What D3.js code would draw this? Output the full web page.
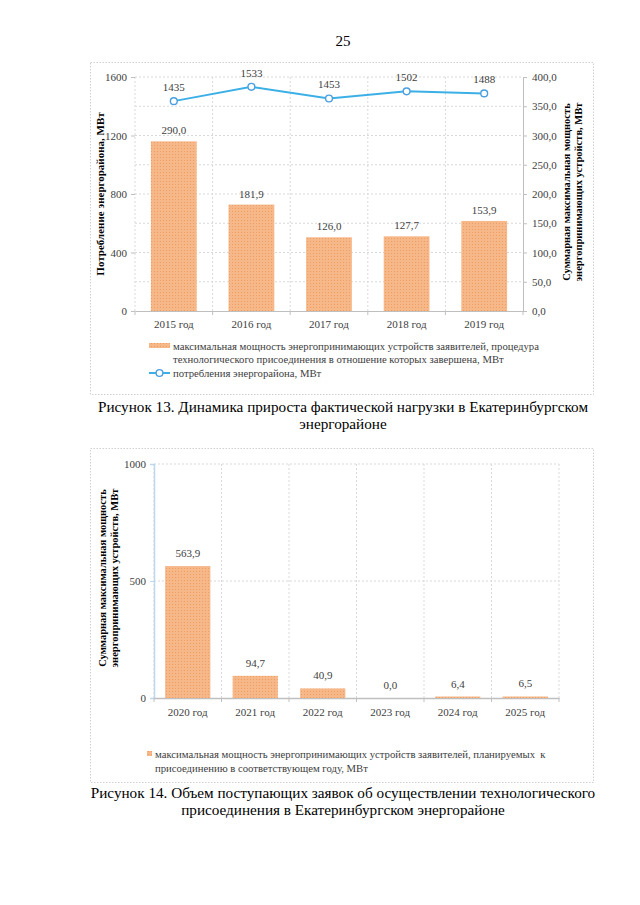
<!DOCTYPE html>
<html><head><meta charset="utf-8">
<script src="https://cdn.jsdelivr.net/npm/d3@7"></script>
<style>
body{margin:0;background:#fff}
svg{display:block}
text{font-family:"Liberation Serif","Times New Roman",serif}
</style>
</head><body>
<svg id="c" width="640" height="905"></svg>
<script>
// ---------- data ----------
const years1 = ["2015 год","2016 год","2017 год","2018 год","2019 год"];
const consumption = [1435,1533,1453,1502,1488];          // left axis, MW
const connectedPower = [290.0,181.9,126.0,127.7,153.9];  // right axis, MW
const leftTicks1 = [0,400,800,1200,1600];
const rightTicks1 = [0,50,100,150,200,250,300,350,400];

const years2 = ["2020 год","2021 год","2022 год","2023 год","2024 год","2025 год"];
const plannedPower = [563.9,94.7,40.9,0.0,6.4,6.5];
const ticks2 = [0,500,1000];

const legend1a = ["максимальная мощность энергопринимающих устройств заявителей, процедура",
                  "технологического присоединения в отношение которых завершена, МВт"];
const legend1b = "потребления энергорайона, МВт";
const legend2 = ["максимальная мощность энергопринимающих устройств заявителей, планируемых  к",
                 "присоединению в соответствующем году, МВт"];
const caption1 = ["Рисунок 13. Динамика прироста фактической нагрузки в Екатеринбургском","энергорайоне"];
const caption2 = ["Рисунок 14. Объем поступающих заявок об осуществлении технологического","присоединения в Екатеринбургском энергорайоне"];

// ---------- setup ----------
const svg = d3.select("#c");
const fmt1 = v => d3.format(".1f")(v).replace(".", ",");
const GRID = "#d9d9d9", AXIS = "#bfbfbf", TXT = "#404040", LINE = "#3cb0e6", MARK = "#4a9fe0";

const defs = svg.append("defs");
const pat = defs.append("pattern").attr("id","dots").attr("width",3).attr("height",3)
  .attr("patternUnits","userSpaceOnUse");
pat.append("rect").attr("width",3).attr("height",3).attr("fill","#f6b889");
pat.append("rect").attr("x",1).attr("y",1).attr("width",1).attr("height",1).attr("fill","#ee9e62");

// page number
svg.append("text").attr("x",343).attr("y",46).attr("text-anchor","middle")
  .attr("font-size",15).attr("fill","#000").text("25");

function frame(x0,y0,x1,y1){
  svg.append("rect").attr("x",x0).attr("y",y0).attr("width",x1-x0).attr("height",y1-y0)
    .attr("fill","#fff").attr("stroke","#d0d0d0").attr("stroke-dasharray","1.5,1.5").attr("stroke-width",1);
}
function caption(lines,y){
  lines.forEach((t,i)=>svg.append("text").attr("x",343).attr("y",y+i*17).attr("text-anchor","middle")
    .attr("font-size",15.2).attr("fill","#000").text(t));
}

// ================= Chart 1 =================
frame(90.5,62.5,593.5,394.5);
const p1 = {l:135, r:523, t:77, b:311};
const x1 = d3.scaleBand().domain(years1).range([p1.l,p1.r]).paddingInner(0.41).paddingOuter(0.205);
const xb1 = d3.scaleBand().domain(years1).range([p1.l,p1.r]);
const yL1 = d3.scaleLinear().domain([0,1600]).range([p1.b,p1.t]);
const yR1 = d3.scaleLinear().domain([0,400]).range([p1.b,p1.t]);

const g1 = svg.append("g");
g1.selectAll(".hg").data(rightTicks1.filter(d=>d>0)).join("line")
  .attr("x1",p1.l).attr("x2",p1.r).attr("y1",d=>yR1(d)).attr("y2",d=>yR1(d))
  .attr("stroke",GRID).attr("stroke-dasharray","2,2");
g1.selectAll(".vg").data(years1).join("line")
  .attr("x1",d=>xb1(d)).attr("x2",d=>xb1(d)).attr("y1",p1.t).attr("y2",p1.b)
  .attr("stroke",GRID).attr("stroke-dasharray","2,2");

const axL1 = d3.axisLeft(yL1).tickValues(leftTicks1).tickSize(4).tickPadding(4).tickFormat(d=>d);
const gaL1 = svg.append("g").attr("transform",`translate(${p1.l},0)`).call(axL1);
const axR1 = d3.axisRight(yR1).tickValues(rightTicks1).tickSize(4).tickPadding(5).tickFormat(fmt1);
const gaR1 = svg.append("g").attr("transform",`translate(${p1.r},0)`).call(axR1);
const axB1 = d3.axisBottom(xb1).tickSize(0).tickPadding(9);
const gaB1 = svg.append("g").attr("transform",`translate(0,${p1.b})`).call(axB1);
svg.selectAll(".bt1").data(years1.concat([null])).join("line")
  .attr("x1",(d,i)=>p1.l+i*xb1.step()).attr("x2",(d,i)=>p1.l+i*xb1.step())
  .attr("y1",p1.b).attr("y2",p1.b+4).attr("stroke",AXIS);
[gaL1,gaR1,gaB1].forEach(g=>{
  g.selectAll(".domain").attr("stroke",AXIS);
  g.selectAll(".tick line").attr("stroke",AXIS);
  g.selectAll("text").attr("font-size",11).attr("fill",TXT)
    .attr("font-family","'Liberation Serif','Times New Roman',serif");
});
gaL1.select(".domain").attr("stroke","none");

svg.selectAll(".bar1").data(connectedPower).join("rect")
  .attr("x",(d,i)=>x1(years1[i])).attr("width",x1.bandwidth())
  .attr("y",d=>yR1(d)).attr("height",d=>p1.b-yR1(d)).attr("fill","url(#dots)");
svg.selectAll(".bl1").data(connectedPower).join("text")
  .attr("x",(d,i)=>xb1(years1[i])+xb1.bandwidth()/2).attr("y",d=>yR1(d)-7)
  .attr("text-anchor","middle").attr("font-size",11).attr("fill",TXT).text(fmt1);

const lineGen = d3.line().x((d,i)=>xb1(years1[i])+xb1.bandwidth()/2).y(d=>yL1(d));
svg.append("path").datum(consumption).attr("d",lineGen).attr("fill","none")
  .attr("stroke",LINE).attr("stroke-width",2);
svg.selectAll(".pt1").data(consumption).join("circle")
  .attr("cx",(d,i)=>xb1(years1[i])+xb1.bandwidth()/2).attr("cy",d=>yL1(d)).attr("r",3.4)
  .attr("fill","#fff").attr("stroke",MARK).attr("stroke-width",1.4);
svg.selectAll(".ll1").data(consumption).join("text")
  .attr("x",(d,i)=>xb1(years1[i])+xb1.bandwidth()/2).attr("y",d=>yL1(d)-10)
  .attr("text-anchor","middle").attr("font-size",11).attr("fill",TXT).text(d=>d);

svg.append("text").attr("transform","translate(104,194) rotate(-90)").attr("text-anchor","middle")
  .attr("font-size",11).attr("font-weight","bold").attr("fill","#000").text("Потребление энергорайона, МВт");
const rt = svg.append("text").attr("transform","translate(570,192) rotate(-90)").attr("text-anchor","middle")
  .attr("font-size",10.5).attr("font-weight","bold").attr("fill","#000");
rt.append("tspan").attr("x",0).attr("y",0).text("Суммарная максимальная мощность");
rt.append("tspan").attr("x",0).attr("y",12).text("энергопринимающих устройств, МВт");

svg.append("rect").attr("x",149).attr("y",343).attr("width",21).attr("height",5).attr("fill","url(#dots)");
legend1a.forEach((t,i)=>svg.append("text").attr("x",173).attr("y",350+i*13)
  .attr("font-size",10.7).attr("fill",TXT).text(t));
svg.append("line").attr("x1",149).attr("x2",170).attr("y1",373).attr("y2",373).attr("stroke",LINE).attr("stroke-width",2);
svg.append("circle").attr("cx",159.5).attr("cy",373).attr("r",3.4).attr("fill","#fff").attr("stroke",MARK).attr("stroke-width",1.4);
svg.append("text").attr("x",173).attr("y",377).attr("font-size",10.7).attr("fill",TXT).text(legend1b);

caption(caption1,412);

// ================= Chart 2 =================
frame(90.5,448.5,593.5,782.5);
const p2 = {l:154, r:559, t:464, b:698};
const x2 = d3.scaleBand().domain(years2).range([p2.l,p2.r]).paddingInner(0.33).paddingOuter(0.165);
const xb2 = d3.scaleBand().domain(years2).range([p2.l,p2.r]);
const y2 = d3.scaleLinear().domain([0,1000]).range([p2.b,p2.t]);

svg.selectAll(".hg2").data(ticks2.filter(d=>d>0)).join("line")
  .attr("x1",p2.l).attr("x2",p2.r).attr("y1",d=>y2(d)).attr("y2",d=>y2(d))
  .attr("stroke",GRID).attr("stroke-dasharray","2,2");
svg.selectAll(".vg2").data(years2.concat([null])).join("line")
  .attr("x1",(d,i)=>p2.l+i*xb2.step()).attr("x2",(d,i)=>p2.l+i*xb2.step())
  .attr("y1",p2.t).attr("y2",p2.b).attr("stroke",GRID).attr("stroke-dasharray","2,2");

const axL2 = d3.axisLeft(y2).tickValues(ticks2).tickSize(4).tickPadding(4).tickFormat(d=>d);
const gaL2 = svg.append("g").attr("transform",`translate(${p2.l},0)`).call(axL2);
gaL2.select(".domain").attr("stroke","#bdd7ee").attr("stroke-width",1.5);
gaL2.selectAll(".tick line").attr("stroke","#bdd7ee");
const axB2 = d3.axisBottom(xb2).tickSize(0).tickPadding(10);
const gaB2 = svg.append("g").attr("transform",`translate(0,${p2.b})`).call(axB2);
gaB2.select(".domain").attr("stroke",AXIS).attr("stroke-width",1.5);
svg.selectAll(".bt2").data(years2.concat([null])).join("line")
  .attr("x1",(d,i)=>p2.l+i*xb2.step()).attr("x2",(d,i)=>p2.l+i*xb2.step())
  .attr("y1",p2.b).attr("y2",p2.b+4).attr("stroke",AXIS);
[gaL2,gaB2].forEach(g=>g.selectAll("text").attr("font-size",11).attr("fill",TXT)
  .attr("font-family","'Liberation Serif','Times New Roman',serif"));

svg.selectAll(".bar2").data(plannedPower).join("rect")
  .attr("x",(d,i)=>x2(years2[i])).attr("width",x2.bandwidth())
  .attr("y",d=>Math.min(y2(d), p2.b-1.5)).attr("height",d=>d>0?Math.max(p2.b-y2(d),1.5):0)
  .attr("fill","url(#dots)");
svg.selectAll(".bl2").data(plannedPower).join("text")
  .attr("x",(d,i)=>xb2(years2[i])+xb2.bandwidth()/2).attr("y",d=>y2(d)-9)
  .attr("text-anchor","middle").attr("font-size",11).attr("fill",TXT).text(fmt1);

const lt2 = svg.append("text").attr("transform","translate(106,578) rotate(-90)").attr("text-anchor","middle")
  .attr("font-size",10.5).attr("font-weight","bold").attr("fill","#000");
lt2.append("tspan").attr("x",0).attr("y",0).text("Суммарная максимальная мощность");
lt2.append("tspan").attr("x",0).attr("y",12).text("энергопринимающих устройств, МВт");

svg.append("rect").attr("x",147).attr("y",751).attr("width",5).attr("height",5).attr("fill","url(#dots)");
legend2.forEach((t,i)=>svg.append("text").attr("x",155).attr("y",758+i*13.5)
  .attr("font-size",10.7).attr("fill",TXT).attr("xml:space","preserve").text(t));

caption(caption2,798);
</script>
</body></html>
